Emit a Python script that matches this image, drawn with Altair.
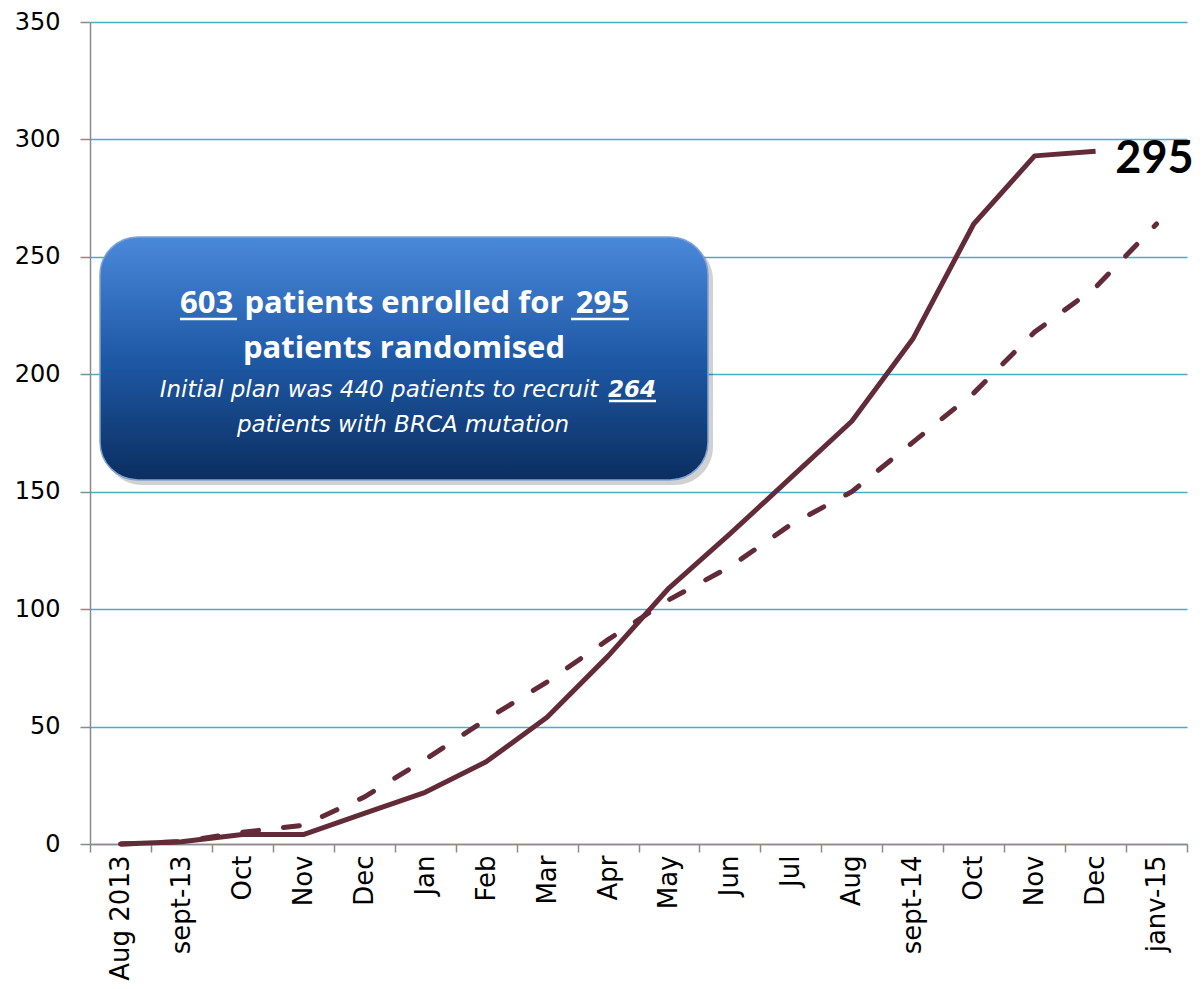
import altair as alt
import pandas as pd

labels = ["Aug 2013", "sept-13", "Oct", "Nov", "Dec", "Jan", "Feb", "Mar", "Apr",
          "May", "Jun", "Jul", "Aug", "sept-14", "Oct", "Nov", "Dec", "janv-15"]
actual = [0, 1, 4, 4, 13, 22, 35, 54, 80, 109, 132, 156, 180, 215, 264, 293, 295]
planned = [0, 1, 5, 8, 20, 36, 53, 69, 87, 104, 118, 136, 150, 171, 192, 218, 237, 264]
final_label = "295"

LINE_COLOR = "#632B38"

df_actual = pd.DataFrame({"i": list(range(len(actual))), "v": actual})
df_plan = pd.DataFrame({"i": list(range(len(planned))), "v": planned})
df_lab = pd.DataFrame({"i": [len(labels) - 1], "v": [295], "t": [final_label]})

label_js = "[" + ",".join("'" + s + "'" for s in labels) + "]"

xscale = alt.Scale(type="band", domain=list(range(len(labels))), paddingInner=0, paddingOuter=0)
yscale = alt.Scale(domain=[0, 350], nice=False)

xenc = alt.X("i:O", scale=xscale, bandPosition=0.5,
             axis=alt.Axis(title=None, labelExpr=label_js + "[datum.value]", tickBand="extent",
                           labelAngle=-90, labelFont="DejaVu Sans", labelFontSize=26,
                           labelColor="#000", labelPadding=3, tickSize=8, grid=False,
                           domainColor="#8a8a8a", tickColor="#8a8a8a", domainWidth=1.5,
                           tickWidth=1.5))
yenc = alt.Y("v:Q", scale=yscale,
             axis=alt.Axis(title=None, values=list(range(0, 351, 50)), grid=True,
                           gridColor="#4BACC6", gridWidth=1.5, tickSize=10,
                           labelFont="DejaVu Sans", labelFontSize=24, labelColor="#000",
                           labelPadding=20, domainColor="#8a8a8a", tickColor="#8a8a8a",
                           domainWidth=1.5, tickWidth=1.5))

solid = alt.Chart(df_actual).mark_line(color=LINE_COLOR, strokeWidth=5, strokeJoin="round").encode(x=xenc, y=yenc)
dashed = alt.Chart(df_plan).mark_line(color=LINE_COLOR, strokeWidth=5, strokeDash=[16, 25],
                                      strokeCap="round").encode(x=xenc, y=yenc)
end_text = alt.Chart(df_lab).mark_text(font="Lato", fontSize=45, fontWeight="bold",
                                       color="#000", align="center", baseline="middle",
                                       dx=-2, dy=8).encode(x=xenc, y=yenc, text="t:N")

one = alt.Data(values=[{}])
shadow = alt.Chart(one).mark_rect(cornerRadius=38, color="#000", opacity=0.18).encode(
    x=alt.value(14), x2=alt.value(623), y=alt.value(220), y2=alt.value(463))
box = alt.Chart(one).mark_rect(
    cornerRadius=38, stroke="#7FA3D6", strokeWidth=1.5,
    fill=alt.Gradient(gradient="linear", x1=0, x2=0, y1=0, y2=1,
                      stops=[alt.GradientStop(color="#4A88DA", offset=0),
                             alt.GradientStop(color="#1E59A6", offset=0.5),
                             alt.GradientStop(color="#0B2E60", offset=1)])
).encode(x=alt.value(10), x2=alt.value(618), y=alt.value(215), y2=alt.value(458))


def txt(s, x, y, size, align="center", weight="bold", style="normal", font="Open Sans"):
    return alt.Chart(one).mark_text(text=s, font=font, fontSize=size, fontWeight=weight,
                                    fontStyle=style, color="white", align=align,
                                    baseline="alphabetic").encode(x=alt.value(x), y=alt.value(y))


t1a = txt("603", 90, 291, 31, align="left")
t1b = txt("patients enrolled for", 314, 291, 31)
t1c = txt("295", 539, 291, 31, align="right")
t2 = txt("patients randomised", 314, 336, 31)
t3a = txt("Initial plan was 440 patients to recruit", 289, 375, 23, weight="normal",
          style="italic", font="DejaVu Sans")
t3b = txt("264", 566, 375, 23, align="right", weight="bold", style="italic", font="DejaVu Sans")
t4 = txt("patients with BRCA mutation", 313, 410, 23, weight="normal", style="italic",
         font="DejaVu Sans")


def uline(x1, x2, y):
    return alt.Chart(one).mark_rule(color="white", strokeWidth=2.5).encode(
        x=alt.value(x1), x2=alt.value(x2), y=alt.value(y))


u1 = uline(90, 147, 297)
u2 = uline(481, 539, 297)
u3 = uline(519, 566, 379)

chart = alt.layer(
    solid, dashed, end_text, shadow, box, t1a, t1b, t1c, t2, t3a, t3b, t4, u1, u2, u3
).properties(
    width=1097, height=822,
    autosize=alt.AutoSizeParams(type="none"),
    padding={"left": 82, "top": 14, "right": 8, "bottom": 137},
    background="white",
).configure_view(stroke=None)

chart.save("out.html", embed_options={"renderer": "svg", "actions": False})
